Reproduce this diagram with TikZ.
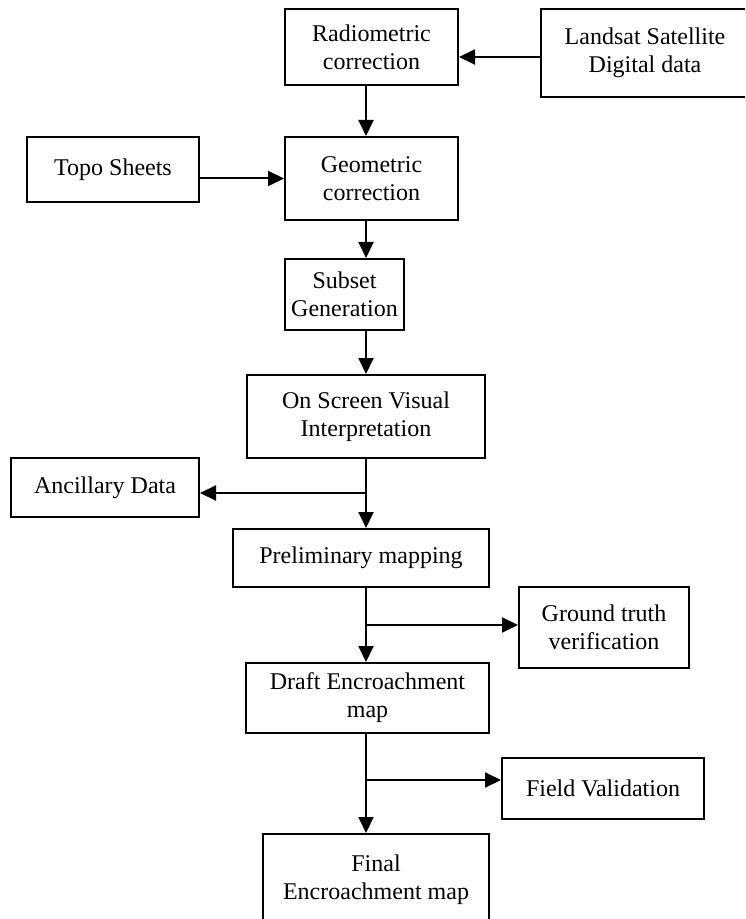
\documentclass[tikz,border=0pt]{standalone}
\usepackage{fontspec}
\setmainfont{Liberation Serif}
\usetikzlibrary{arrows.meta}

\begin{document}
\begin{tikzpicture}[x=0.5pt, y=-0.5pt,
  every node/.style={font=\fontsize{12}{14}\selectfont, align=center},
  box/.style={draw, line width=1pt, rectangle, inner sep=0pt},
  flow/.style={line width=1pt, -{Triangle[length=8pt,width=7.5pt]}}]
  \useasboundingbox (0,0) rectangle (745,919);
  \clip (0,0) rectangle (745,919);
  % boxes
  \node[box, minimum width=86.5pt, minimum height=38pt] (radio) at (371.5,47) {Radiometric\\correction};
  \node[box, minimum width=104pt, minimum height=44pt] (land) at (645,53) {Landsat Satellite\\Digital data};
  \node[box, minimum width=86pt, minimum height=32.5pt] (topo) at (113,169.5) {Topo Sheets};
  \node[box, minimum width=86.5pt, minimum height=41.5pt] (geo) at (371.5,178.5) {Geometric\\correction};
  \node[box, minimum width=59.5pt, minimum height=35.5pt] (subset) at (344.5,294.5) {Subset\\Generation};
  \node[box, minimum width=119pt, minimum height=41.5pt] (osvi) at (366,416.5) {On Screen Visual\\Interpretation};
  \node[box, minimum width=94pt, minimum height=29.5pt] (anc) at (105,487.5) {Ancillary Data};
  \node[box, minimum width=128pt, minimum height=29pt] (prelim) at (361,558) {Preliminary mapping};
  \node[box, minimum width=85pt, minimum height=40.5pt] (ground) at (604,627.5) {Ground truth\\verification};
  \node[box, minimum width=121.5pt, minimum height=35pt] (draft) at (367.5,698) {Draft Encroachment\\map};
  \node[box, minimum width=101pt, minimum height=30.5pt] (field) at (603,788.5) {Field Validation};
  \node[box, minimum width=113pt, minimum height=45.5pt] (final) at (376,879.5) {Final\\Encroachment map};
  % main line and branches
  \coordinate (spine) at (366,0);
  \coordinate (j1) at (366,493);
  \coordinate (j2) at (366,625);
  \coordinate (j3) at (366,780);
  \draw[flow] ([yshift=-2pt]land.west) -- ([yshift=-2pt]land.west -| radio.east);
  \draw[flow] (radio.south -| spine) -- (geo.north -| spine);
  \draw[flow] (topo.east |- geo) -- (geo.west);
  \draw[flow] (geo.south -| spine) -- (subset.north -| spine);
  \draw[flow] (subset.south -| spine) -- (osvi.north);
  \draw[flow] (osvi.south) -- (prelim.north -| spine);
  \draw[flow] (j1) -- (j1 -| anc.east);
  \draw[flow] (prelim.south -| spine) -- (draft.north -| spine);
  \draw[flow] (j2) -- (j2 -| ground.west);
  \draw[flow] (draft.south -| spine) -- (final.north -| spine);
  \draw[flow] (j3) -- (j3 -| field.west);
\end{tikzpicture}
\end{document}
